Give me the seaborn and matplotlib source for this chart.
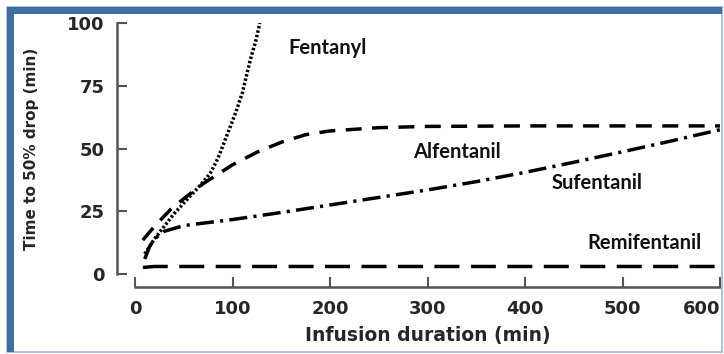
import matplotlib
matplotlib.use("Agg")
import pandas as pd
import matplotlib.pyplot as plt
import seaborn as sns
from matplotlib.patches import Rectangle

# Datos (minutos)
fentanyl_x = [10, 20, 30, 40, 53, 65, 77, 85, 90, 97, 103, 110, 118, 124, 128]
fentanyl_y = [8, 14, 19, 24, 29.5, 34.5, 40, 46, 51, 58, 64, 72, 85, 93, 100]

alfentanil_x = [8, 20, 36, 50, 70, 100, 125, 150, 175, 200, 250, 300, 400, 500, 600]
alfentanil_y = [13.5, 19, 25.5, 30, 36, 43.5, 48.5, 52.5, 55.5, 57, 58.3, 58.8, 59, 59, 59]

sufentanil_x = [10, 15, 20, 30, 50, 75, 100, 150, 200, 250, 300, 350, 400, 450, 500, 550, 600]
sufentanil_y = [6, 11, 14, 17, 19.3, 20.5, 21.7, 24.5, 27.5, 30.5, 33.5, 36.8, 40.5, 44.5, 48.7, 53, 57.5]

remifentanil_x = [8, 20, 50, 100, 200, 300, 400, 500, 600]
remifentanil_y = [2.6, 3, 3, 3, 3, 3, 3, 3, 3]

x_ticks = [0, 100, 200, 300, 400, 500, 600]
y_ticks = [0, 25, 50, 75, 100]

filas = []
for nombre, xs, ys in [("Fentanyl", fentanyl_x, fentanyl_y),
                       ("Alfentanil", alfentanil_x, alfentanil_y),
                       ("Sufentanil", sufentanil_x, sufentanil_y),
                       ("Remifentanil", remifentanil_x, remifentanil_y)]:
    for a, b in zip(xs, ys):
        filas.append({"droga": nombre, "duracion": a, "tiempo": b})
df = pd.DataFrame(filas)

sns.set_style("white")
plt.rcParams["font.family"] = ["DejaVu Sans"]

fig = plt.figure(figsize=(7.24, 3.54), dpi=100)
fig.patch.set_facecolor("white")
ax = fig.add_axes([135 / 724, 80 / 354, 585 / 724, 251 / 354])

estilos = {
    "Fentanyl": (0.7, 0.6),
    "Alfentanil": (4.6, 3.0),
    "Sufentanil": (5.2, 1.8, 0.9, 1.8),
    "Remifentanil": (7.2, 3.3),
}
sns.lineplot(data=df, x="duracion", y="tiempo", style="droga", dashes=estilos,
             color="black", linewidth=2.5, legend=False, ax=ax, estimator=None)

ax.set_xlim(0, 600)
ax.set_ylim(0, 100)
ax.set_xticks(x_ticks)
ax.set_yticks(y_ticks)
sns.despine(ax=ax, offset={"left": 13, "bottom": 9.5})
for lado in ["left", "bottom"]:
    ax.spines[lado].set_color("#555555")
    ax.spines[lado].set_linewidth(1.8)
ax.tick_params(axis="both", direction="in", length=7, width=1.5, color="#555555",
               labelsize=13, pad=9, bottom=True, left=True)
for t in ax.get_xticklabels() + ax.get_yticklabels():
    t.set_fontweight("bold")
ax.get_xticklabels()[-1].set_horizontalalignment("right")

ax.set_xlabel("Infusion duration (min)", fontsize=13.5, fontweight="bold", labelpad=6)
ax.set_ylabel("Time to 50% drop (min)", fontsize=11, fontweight="bold", labelpad=20)

etiquetas = [("Fentanyl", 197, 90), ("Alfentanil", 330, 48.6),
             ("Sufentanil", 474, 36.3), ("Remifentanil", 523, 12.3)]
for texto, tx, ty in etiquetas:
    ax.text(tx, ty, texto, ha="center", va="center", fontsize=14.5,
            fontweight="bold", family=["Lato", "DejaVu Sans"], color="#111111")

# Marco azul alrededor de la imagen
W, H = 724, 354
fig.add_artist(Rectangle((7 / W, 2 / H), 715 / W, 345 / H, transform=fig.transFigure,
                         fill=False, edgecolor="#9db8da", linewidth=1.2))
fig.add_artist(Rectangle((7 / W, 340 / H), 715 / W, 7 / H, transform=fig.transFigure,
                         facecolor="#3d6ea4", edgecolor="none"))
fig.add_artist(Rectangle((7 / W, 2 / H), 7 / W, 345 / H, transform=fig.transFigure,
                         facecolor="#3d6ea4", edgecolor="none"))

fig.savefig("out.png", dpi=100)
plt.close(fig)
